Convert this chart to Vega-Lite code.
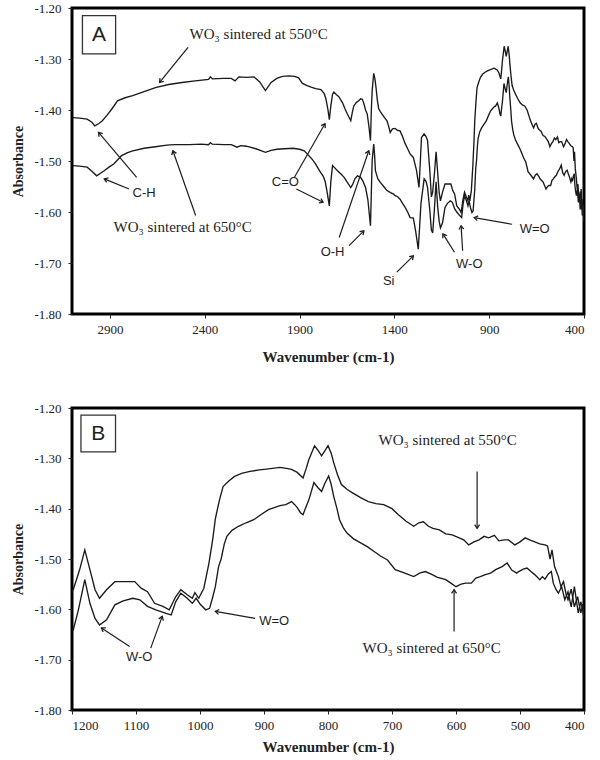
{
"$schema": "https://vega.github.io/schema/vega-lite/v6.json",
"background": "white",
"padding": {"left": 10, "top": 0, "right": 12, "bottom": 0},
"spacing": 34,
"config": {
  "view": {"stroke": "black", "strokeWidth": 3},
  "axis": {"grid": false, "domain": false, "labelFont": "Liberation Serif", "labelFontSize": 13, "labelColor": "#222", "titleFont": "Liberation Serif", "titleFontSize": 15, "titleFontWeight": "bold", "titleColor": "#222", "tickColor": "#222", "tickSize": 4}
},
"datasets": {
"spec": [
{"s":"U","wn":3095,"a":-1.415},{"s":"U","wn":3060,"a":-1.416},{"s":"U","wn":3020,"a":-1.418},{"s":"U","wn":2995,"a":-1.424},{"s":"U","wn":2980,"a":-1.431},{"s":"U","wn":2960,"a":-1.427},{"s":"U","wn":2940,"a":-1.421},{"s":"U","wn":2915,"a":-1.410},{"s":"U","wn":2890,"a":-1.398},{"s":"U","wn":2860,"a":-1.382},{"s":"U","wn":2820,"a":-1.376},{"s":"U","wn":2780,"a":-1.372},{"s":"U","wn":2720,"a":-1.364},{"s":"U","wn":2660,"a":-1.356},{"s":"U","wn":2590,"a":-1.350},{"s":"U","wn":2520,"a":-1.346},{"s":"U","wn":2450,"a":-1.343},{"s":"U","wn":2380,"a":-1.340},{"s":"U","wn":2370,"a":-1.335},{"s":"U","wn":2360,"a":-1.339},{"s":"U","wn":2300,"a":-1.338},{"s":"U","wn":2260,"a":-1.338},{"s":"U","wn":2240,"a":-1.343},{"s":"U","wn":2220,"a":-1.335},{"s":"U","wn":2180,"a":-1.336},{"s":"U","wn":2140,"a":-1.335},{"s":"U","wn":2110,"a":-1.345},{"s":"U","wn":2080,"a":-1.362},{"s":"U","wn":2050,"a":-1.346},{"s":"U","wn":2020,"a":-1.338},{"s":"U","wn":1990,"a":-1.334},{"s":"U","wn":1955,"a":-1.333},{"s":"U","wn":1925,"a":-1.334},{"s":"U","wn":1905,"a":-1.337},{"s":"U","wn":1885,"a":-1.348},{"s":"U","wn":1860,"a":-1.352},{"s":"U","wn":1839,"a":-1.355},{"s":"U","wn":1815,"a":-1.358},{"s":"U","wn":1787,"a":-1.360},{"s":"U","wn":1770,"a":-1.368},{"s":"U","wn":1761,"a":-1.378},{"s":"U","wn":1750,"a":-1.400},{"s":"U","wn":1743,"a":-1.419},{"s":"U","wn":1735,"a":-1.392},{"s":"U","wn":1726,"a":-1.369},{"s":"U","wn":1719,"a":-1.365},{"s":"U","wn":1705,"a":-1.370},{"s":"U","wn":1693,"a":-1.374},{"s":"U","wn":1673,"a":-1.386},{"s":"U","wn":1660,"a":-1.398},{"s":"U","wn":1648,"a":-1.408},{"s":"U","wn":1630,"a":-1.421},{"s":"U","wn":1622,"a":-1.405},{"s":"U","wn":1614,"a":-1.392},{"s":"U","wn":1600,"a":-1.385},{"s":"U","wn":1588,"a":-1.382},{"s":"U","wn":1578,"a":-1.378},{"s":"U","wn":1569,"a":-1.379},{"s":"U","wn":1562,"a":-1.386},{"s":"U","wn":1552,"a":-1.400},{"s":"U","wn":1543,"a":-1.408},{"s":"U","wn":1535,"a":-1.430},{"s":"U","wn":1526,"a":-1.460},{"s":"U","wn":1521,"a":-1.395},{"s":"U","wn":1517,"a":-1.362},{"s":"U","wn":1509,"a":-1.328},{"s":"U","wn":1503,"a":-1.338},{"s":"U","wn":1497,"a":-1.355},{"s":"U","wn":1490,"a":-1.380},{"s":"U","wn":1483,"a":-1.397},{"s":"U","wn":1474,"a":-1.403},{"s":"U","wn":1465,"a":-1.408},{"s":"U","wn":1452,"a":-1.415},{"s":"U","wn":1439,"a":-1.421},{"s":"U","wn":1430,"a":-1.432},{"s":"U","wn":1422,"a":-1.444},{"s":"U","wn":1410,"a":-1.437},{"s":"U","wn":1396,"a":-1.436},{"s":"U","wn":1383,"a":-1.440},{"s":"U","wn":1370,"a":-1.441},{"s":"U","wn":1357,"a":-1.452},{"s":"U","wn":1343,"a":-1.466},{"s":"U","wn":1330,"a":-1.476},{"s":"U","wn":1317,"a":-1.486},{"s":"U","wn":1300,"a":-1.493},{"s":"U","wn":1283,"a":-1.519},{"s":"U","wn":1270,"a":-1.552},{"s":"U","wn":1263,"a":-1.500},{"s":"U","wn":1257,"a":-1.454},{"s":"U","wn":1243,"a":-1.447},{"s":"U","wn":1233,"a":-1.452},{"s":"U","wn":1225,"a":-1.460},{"s":"U","wn":1213,"a":-1.519},{"s":"U","wn":1205,"a":-1.570},{"s":"U","wn":1198,"a":-1.561},{"s":"U","wn":1188,"a":-1.521},{"s":"U","wn":1180,"a":-1.482},{"s":"U","wn":1172,"a":-1.521},{"s":"U","wn":1164,"a":-1.561},{"s":"U","wn":1157,"a":-1.578},{"s":"U","wn":1146,"a":-1.561},{"s":"U","wn":1133,"a":-1.545},{"s":"U","wn":1119,"a":-1.545},{"s":"U","wn":1102,"a":-1.545},{"s":"U","wn":1092,"a":-1.558},{"s":"U","wn":1082,"a":-1.565},{"s":"U","wn":1071,"a":-1.588},{"s":"U","wn":1058,"a":-1.594},{"s":"U","wn":1048,"a":-1.601},{"s":"U","wn":1038,"a":-1.575},{"s":"U","wn":1030,"a":-1.561},{"s":"U","wn":1020,"a":-1.571},{"s":"U","wn":1012,"a":-1.578},{"s":"U","wn":1008,"a":-1.567},{"s":"U","wn":1002,"a":-1.578},{"s":"U","wn":994,"a":-1.558},{"s":"U","wn":986,"a":-1.508},{"s":"U","wn":980,"a":-1.460},{"s":"U","wn":976,"a":-1.420},{"s":"U","wn":970,"a":-1.385},{"s":"U","wn":964,"a":-1.356},{"s":"U","wn":955,"a":-1.345},{"s":"U","wn":946,"a":-1.336},{"s":"U","wn":935,"a":-1.330},{"s":"U","wn":922,"a":-1.326},{"s":"U","wn":907,"a":-1.323},{"s":"U","wn":893,"a":-1.321},{"s":"U","wn":875,"a":-1.318},{"s":"U","wn":865,"a":-1.320},{"s":"U","wn":857,"a":-1.322},{"s":"U","wn":848,"a":-1.328},{"s":"U","wn":839,"a":-1.339},{"s":"U","wn":834,"a":-1.320},{"s":"U","wn":830,"a":-1.303},{"s":"U","wn":821,"a":-1.275},{"s":"U","wn":815,"a":-1.285},{"s":"U","wn":810,"a":-1.295},{"s":"U","wn":805,"a":-1.285},{"s":"U","wn":800,"a":-1.275},{"s":"U","wn":795,"a":-1.290},{"s":"U","wn":791,"a":-1.309},{"s":"U","wn":785,"a":-1.333},{"s":"U","wn":779,"a":-1.352},{"s":"U","wn":770,"a":-1.362},{"s":"U","wn":761,"a":-1.369},{"s":"U","wn":749,"a":-1.378},{"s":"U","wn":737,"a":-1.386},{"s":"U","wn":725,"a":-1.390},{"s":"U","wn":713,"a":-1.392},{"s":"U","wn":700,"a":-1.400},{"s":"U","wn":690,"a":-1.412},{"s":"U","wn":678,"a":-1.425},{"s":"U","wn":666,"a":-1.435},{"s":"U","wn":658,"a":-1.428},{"s":"U","wn":651,"a":-1.426},{"s":"U","wn":643,"a":-1.435},{"s":"U","wn":636,"a":-1.439},{"s":"U","wn":626,"a":-1.442},{"s":"U","wn":616,"a":-1.450},{"s":"U","wn":606,"a":-1.452},{"s":"U","wn":595,"a":-1.458},{"s":"U","wn":588,"a":-1.462},{"s":"U","wn":580,"a":-1.472},{"s":"U","wn":572,"a":-1.466},{"s":"U","wn":564,"a":-1.462},{"s":"U","wn":556,"a":-1.455},{"s":"U","wn":549,"a":-1.458},{"s":"U","wn":540,"a":-1.453},{"s":"U","wn":533,"a":-1.464},{"s":"U","wn":525,"a":-1.462},{"s":"U","wn":518,"a":-1.462},{"s":"U","wn":508,"a":-1.472},{"s":"U","wn":500,"a":-1.466},{"s":"U","wn":492,"a":-1.458},{"s":"U","wn":485,"a":-1.462},{"s":"U","wn":477,"a":-1.466},{"s":"U","wn":469,"a":-1.470},{"s":"U","wn":461,"a":-1.472},{"s":"U","wn":457,"a":-1.474},{"s":"U","wn":453,"a":-1.500},{"s":"U","wn":450,"a":-1.482},{"s":"U","wn":446,"a":-1.515},{"s":"U","wn":440,"a":-1.535},{"s":"U","wn":436,"a":-1.555},{"s":"U","wn":432,"a":-1.545},{"s":"U","wn":428,"a":-1.570},{"s":"U","wn":425,"a":-1.581},{"s":"U","wn":420,"a":-1.560},{"s":"U","wn":415,"a":-1.595},{"s":"U","wn":410,"a":-1.575},{"s":"U","wn":405,"a":-1.607},{"s":"U","wn":402,"a":-1.590},{"s":"U","wn":400,"a":-1.615},
{"s":"L","wn":3095,"a":-1.509},{"s":"L","wn":3060,"a":-1.510},{"s":"L","wn":3020,"a":-1.512},{"s":"L","wn":2995,"a":-1.520},{"s":"L","wn":2970,"a":-1.529},{"s":"L","wn":2950,"a":-1.524},{"s":"L","wn":2930,"a":-1.519},{"s":"L","wn":2905,"a":-1.512},{"s":"L","wn":2880,"a":-1.506},{"s":"L","wn":2860,"a":-1.498},{"s":"L","wn":2840,"a":-1.490},{"s":"L","wn":2810,"a":-1.484},{"s":"L","wn":2780,"a":-1.480},{"s":"L","wn":2720,"a":-1.475},{"s":"L","wn":2660,"a":-1.472},{"s":"L","wn":2600,"a":-1.469},{"s":"L","wn":2560,"a":-1.468},{"s":"L","wn":2480,"a":-1.468},{"s":"L","wn":2420,"a":-1.467},{"s":"L","wn":2380,"a":-1.468},{"s":"L","wn":2370,"a":-1.464},{"s":"L","wn":2360,"a":-1.467},{"s":"L","wn":2300,"a":-1.468},{"s":"L","wn":2260,"a":-1.468},{"s":"L","wn":2230,"a":-1.473},{"s":"L","wn":2210,"a":-1.470},{"s":"L","wn":2180,"a":-1.471},{"s":"L","wn":2130,"a":-1.476},{"s":"L","wn":2100,"a":-1.480},{"s":"L","wn":2080,"a":-1.483},{"s":"L","wn":2050,"a":-1.479},{"s":"L","wn":2020,"a":-1.477},{"s":"L","wn":1980,"a":-1.476},{"s":"L","wn":1935,"a":-1.475},{"s":"L","wn":1900,"a":-1.477},{"s":"L","wn":1875,"a":-1.480},{"s":"L","wn":1855,"a":-1.488},{"s":"L","wn":1835,"a":-1.496},{"s":"L","wn":1815,"a":-1.506},{"s":"L","wn":1795,"a":-1.519},{"s":"L","wn":1775,"a":-1.530},{"s":"L","wn":1765,"a":-1.540},{"s":"L","wn":1755,"a":-1.560},{"s":"L","wn":1743,"a":-1.588},{"s":"L","wn":1735,"a":-1.540},{"s":"L","wn":1726,"a":-1.509},{"s":"L","wn":1713,"a":-1.514},{"s":"L","wn":1700,"a":-1.519},{"s":"L","wn":1683,"a":-1.525},{"s":"L","wn":1665,"a":-1.532},{"s":"L","wn":1648,"a":-1.542},{"s":"L","wn":1630,"a":-1.552},{"s":"L","wn":1620,"a":-1.546},{"s":"L","wn":1608,"a":-1.535},{"s":"L","wn":1595,"a":-1.529},{"s":"L","wn":1578,"a":-1.532},{"s":"L","wn":1565,"a":-1.540},{"s":"L","wn":1552,"a":-1.552},{"s":"L","wn":1540,"a":-1.575},{"s":"L","wn":1526,"a":-1.627},{"s":"L","wn":1520,"a":-1.540},{"s":"L","wn":1517,"a":-1.499},{"s":"L","wn":1509,"a":-1.467},{"s":"L","wn":1504,"a":-1.490},{"s":"L","wn":1500,"a":-1.519},{"s":"L","wn":1487,"a":-1.535},{"s":"L","wn":1474,"a":-1.542},{"s":"L","wn":1456,"a":-1.550},{"s":"L","wn":1439,"a":-1.558},{"s":"L","wn":1420,"a":-1.562},{"s":"L","wn":1404,"a":-1.565},{"s":"L","wn":1396,"a":-1.568},{"s":"L","wn":1383,"a":-1.570},{"s":"L","wn":1370,"a":-1.575},{"s":"L","wn":1357,"a":-1.583},{"s":"L","wn":1343,"a":-1.591},{"s":"L","wn":1330,"a":-1.600},{"s":"L","wn":1317,"a":-1.611},{"s":"L","wn":1300,"a":-1.612},{"s":"L","wn":1288,"a":-1.637},{"s":"L","wn":1274,"a":-1.673},{"s":"L","wn":1267,"a":-1.630},{"s":"L","wn":1260,"a":-1.584},{"s":"L","wn":1243,"a":-1.535},{"s":"L","wn":1233,"a":-1.540},{"s":"L","wn":1225,"a":-1.552},{"s":"L","wn":1213,"a":-1.597},{"s":"L","wn":1205,"a":-1.635},{"s":"L","wn":1198,"a":-1.641},{"s":"L","wn":1190,"a":-1.601},{"s":"L","wn":1180,"a":-1.541},{"s":"L","wn":1172,"a":-1.588},{"s":"L","wn":1164,"a":-1.618},{"s":"L","wn":1157,"a":-1.631},{"s":"L","wn":1146,"a":-1.621},{"s":"L","wn":1133,"a":-1.591},{"s":"L","wn":1120,"a":-1.583},{"s":"L","wn":1105,"a":-1.578},{"s":"L","wn":1094,"a":-1.581},{"s":"L","wn":1082,"a":-1.594},{"s":"L","wn":1069,"a":-1.601},{"s":"L","wn":1053,"a":-1.608},{"s":"L","wn":1045,"a":-1.611},{"s":"L","wn":1038,"a":-1.585},{"s":"L","wn":1030,"a":-1.568},{"s":"L","wn":1020,"a":-1.578},{"s":"L","wn":1012,"a":-1.588},{"s":"L","wn":1006,"a":-1.578},{"s":"L","wn":999,"a":-1.591},{"s":"L","wn":991,"a":-1.601},{"s":"L","wn":985,"a":-1.598},{"s":"L","wn":980,"a":-1.575},{"s":"L","wn":976,"a":-1.555},{"s":"L","wn":971,"a":-1.515},{"s":"L","wn":967,"a":-1.500},{"s":"L","wn":962,"a":-1.470},{"s":"L","wn":958,"a":-1.455},{"s":"L","wn":950,"a":-1.443},{"s":"L","wn":940,"a":-1.435},{"s":"L","wn":928,"a":-1.428},{"s":"L","wn":916,"a":-1.422},{"s":"L","wn":905,"a":-1.412},{"s":"L","wn":893,"a":-1.402},{"s":"L","wn":884,"a":-1.398},{"s":"L","wn":875,"a":-1.394},{"s":"L","wn":866,"a":-1.392},{"s":"L","wn":857,"a":-1.386},{"s":"L","wn":852,"a":-1.392},{"s":"L","wn":848,"a":-1.398},{"s":"L","wn":843,"a":-1.408},{"s":"L","wn":839,"a":-1.412},{"s":"L","wn":834,"a":-1.395},{"s":"L","wn":830,"a":-1.383},{"s":"L","wn":822,"a":-1.348},{"s":"L","wn":816,"a":-1.358},{"s":"L","wn":810,"a":-1.366},{"s":"L","wn":805,"a":-1.350},{"s":"L","wn":799,"a":-1.335},{"s":"L","wn":795,"a":-1.352},{"s":"L","wn":791,"a":-1.376},{"s":"L","wn":786,"a":-1.400},{"s":"L","wn":782,"a":-1.422},{"s":"L","wn":776,"a":-1.438},{"s":"L","wn":770,"a":-1.449},{"s":"L","wn":760,"a":-1.460},{"s":"L","wn":749,"a":-1.468},{"s":"L","wn":738,"a":-1.476},{"s":"L","wn":728,"a":-1.485},{"s":"L","wn":718,"a":-1.494},{"s":"L","wn":707,"a":-1.502},{"s":"L","wn":695,"a":-1.521},{"s":"L","wn":680,"a":-1.528},{"s":"L","wn":666,"a":-1.535},{"s":"L","wn":657,"a":-1.528},{"s":"L","wn":648,"a":-1.525},{"s":"L","wn":637,"a":-1.531},{"s":"L","wn":630,"a":-1.536},{"s":"L","wn":616,"a":-1.541},{"s":"L","wn":608,"a":-1.548},{"s":"L","wn":600,"a":-1.555},{"s":"L","wn":592,"a":-1.550},{"s":"L","wn":585,"a":-1.548},{"s":"L","wn":576,"a":-1.548},{"s":"L","wn":569,"a":-1.538},{"s":"L","wn":562,"a":-1.535},{"s":"L","wn":554,"a":-1.531},{"s":"L","wn":546,"a":-1.528},{"s":"L","wn":538,"a":-1.521},{"s":"L","wn":528,"a":-1.515},{"s":"L","wn":520,"a":-1.508},{"s":"L","wn":513,"a":-1.522},{"s":"L","wn":505,"a":-1.528},{"s":"L","wn":502,"a":-1.525},{"s":"L","wn":495,"a":-1.520},{"s":"L","wn":489,"a":-1.518},{"s":"L","wn":483,"a":-1.525},{"s":"L","wn":477,"a":-1.531},{"s":"L","wn":469,"a":-1.541},{"s":"L","wn":465,"a":-1.535},{"s":"L","wn":461,"a":-1.540},{"s":"L","wn":456,"a":-1.530},{"s":"L","wn":451,"a":-1.525},{"s":"L","wn":448,"a":-1.548},{"s":"L","wn":444,"a":-1.560},{"s":"L","wn":440,"a":-1.568},{"s":"L","wn":435,"a":-1.555},{"s":"L","wn":430,"a":-1.581},{"s":"L","wn":425,"a":-1.565},{"s":"L","wn":420,"a":-1.595},{"s":"L","wn":415,"a":-1.555},{"s":"L","wn":409,"a":-1.607},{"s":"L","wn":405,"a":-1.585},{"s":"L","wn":402,"a":-1.600},{"s":"L","wn":400,"a":-1.620}
],
"arrA": [
{"wn":2488,"a":-1.277,"wn2":2638,"a2":-1.346,"rot":219.5},
{"wn":2759,"a":-1.532,"wn2":2960,"a2":-1.444,"rot":-40.6},
{"wn":2799,"a":-1.555,"wn2":2930,"a2":-1.535,"rot":-68.2},
{"wn":2448,"a":-1.607,"wn2":2568,"a2":-1.480,"rot":-19.5},
{"wn":1927,"a":-1.532,"wn2":1766,"a2":-1.427,"rot":30.1},
{"wn":1917,"a":-1.555,"wn2":1776,"a2":-1.581,"rot":116.4},
{"wn":1691,"a":-1.650,"wn2":1535,"a2":-1.480,"rot":19.1},
{"wn":1639,"a":-1.666,"wn2":1561,"a2":-1.637,"rot":45},
{"wn":1387,"a":-1.718,"wn2":1300,"a2":-1.686,"rot":44.8},
{"wn":1083,"a":-1.679,"wn2":1144,"a2":-1.643,"rot":-32.5},
{"wn":1040,"a":-1.676,"wn2":1048,"a2":-1.627,"rot":-3.7},
{"wn":779,"a":-1.624,"wn2":979,"a2":-1.611,"rot":-80.2}
],
"arrB": [
{"wn":567,"a":-1.326,"wn2":567,"a2":-1.439,"rot":180},
{"wn":603,"a":-1.644,"wn2":603,"a2":-1.561,"rot":0},
{"wn":1110,"a":-1.674,"wn2":1154,"a2":-1.637,"rot":-57.3},
{"wn":1077,"a":-1.677,"wn2":1059,"a2":-1.614,"rot":20},
{"wn":914,"a":-1.618,"wn2":976,"a2":-1.604,"rot":-80.7}
],
"serA": [
{"wn":2480,"a":-1.250,"t":"WO₃ sintered at 550°C"},
{"wn":2881,"a":-1.630,"t":"WO₃ sintered at 650°C"}
],
"sanA": [
{"wn":2720,"a":-1.562,"t":"C-H"},
{"wn":1975,"a":-1.542,"t":"C=O"},
{"wn":1726,"a":-1.679,"t":"O-H"},
{"wn":1430,"a":-1.735,"t":"Si"},
{"wn":1005,"a":-1.702,"t":"W-O"},
{"wn":660,"a":-1.633,"t":"W=O"}
],
"serB": [
{"wn":721,"a":-1.263,"t":"WO₃ sintered at 550°C"},
{"wn":746,"a":-1.677,"t":"WO₃ sintered at 650°C"}
],
"sanB": [
{"wn":1095,"a":-1.694,"t":"W-O"},
{"wn":884,"a":-1.624,"t":"W=O"}
],
"boxA": [{"wn":3045,"wn2":2870,"a":-1.215,"a2":-1.290}],
"tagA": [{"wn":2957,"a":-1.253,"t":"A"}],
"boxB": [{"wn":1186,"wn2":1132,"a":-1.214,"a2":-1.287}],
"tagB": [{"wn":1159,"a":-1.251,"t":"B"}]
},
"vconcat": [
{
"width": 512, "height": 306,
"encoding": {
  "x": {"field": "wn", "type": "quantitative", "scale": {"domain": [400, 3100], "reverse": true, "nice": false, "zero": false}, "axis": {"values": [400, 900, 1400, 1900, 2400, 2900], "format": "d", "title": "Wavenumber (cm-1)", "labelPadding": 5, "titlePadding": 13}},
  "y": {"field": "a", "type": "quantitative", "scale": {"domain": [-1.8, -1.2], "nice": false, "zero": false}, "axis": {"values": [-1.8, -1.7, -1.6, -1.5, -1.4, -1.3, -1.2], "labelExpr": "'-' + format(abs(datum.value), '.2f')", "title": "Absorbance", "titleFontSize": 14, "labelPadding": 7, "titlePadding": 8}}
},
"layer": [
  {"data": {"name": "spec"}, "mark": {"type": "line", "color": "#1a1a1a", "strokeWidth": 1.35, "clip": true}, "encoding": {"detail": {"field": "s"}}},
  {"data": {"name": "arrA"}, "mark": {"type": "rule", "color": "#1e1e1e", "strokeWidth": 1.2}, "encoding": {"x2": {"field": "wn2"}, "y2": {"field": "a2"}}},
  {"data": {"name": "arrA"}, "mark": {"type": "point", "shape": "M-0.55,0.8L0,0L0.55,0.8", "filled": false, "size": 80, "strokeWidth": 1.3, "color": "#1e1e1e", "opacity": 1}, "encoding": {"x": {"field": "wn2", "type": "quantitative"}, "y": {"field": "a2", "type": "quantitative"}, "angle": {"field": "rot", "type": "quantitative", "scale": null}}},
  {"data": {"name": "serA"}, "mark": {"type": "text", "font": "Liberation Serif", "fontSize": 15, "align": "left", "baseline": "middle", "color": "#1e1e1e"}, "encoding": {"text": {"field": "t"}}},
  {"data": {"name": "sanA"}, "mark": {"type": "text", "font": "Liberation Sans", "fontSize": 13, "align": "center", "baseline": "middle", "color": "#1e1e1e"}, "encoding": {"text": {"field": "t"}}},
  {"data": {"name": "boxA"}, "mark": {"type": "rect", "fill": "white", "stroke": "#333", "strokeWidth": 1.3}, "encoding": {"x2": {"field": "wn2"}, "y2": {"field": "a2"}}},
  {"data": {"name": "tagA"}, "mark": {"type": "text", "font": "Liberation Sans", "fontSize": 21, "align": "center", "baseline": "middle", "color": "#1e1e1e"}, "encoding": {"text": {"field": "t"}}}
]
},
{
"width": 512, "height": 302,
"encoding": {
  "x": {"field": "wn", "type": "quantitative", "scale": {"domain": [400, 1200], "reverse": true, "nice": false, "zero": false}, "axis": {"values": [400, 500, 600, 700, 800, 900, 1000, 1100, 1200], "format": "d", "title": "Wavenumber (cm-1)", "labelPadding": 5, "titlePadding": 7}},
  "y": {"field": "a", "type": "quantitative", "scale": {"domain": [-1.8, -1.2], "nice": false, "zero": false}, "axis": {"values": [-1.8, -1.7, -1.6, -1.5, -1.4, -1.3, -1.2], "labelExpr": "'-' + format(abs(datum.value), '.2f')", "title": "Absorbance", "titleFontSize": 14, "labelPadding": 7, "titlePadding": 8}}
},
"layer": [
  {"data": {"name": "spec"}, "transform": [{"filter": "datum.wn <= 1210"}], "mark": {"type": "line", "color": "#1a1a1a", "strokeWidth": 1.35, "clip": true}, "encoding": {"detail": {"field": "s"}}},
  {"data": {"name": "arrB"}, "mark": {"type": "rule", "color": "#1e1e1e", "strokeWidth": 1.2}, "encoding": {"x2": {"field": "wn2"}, "y2": {"field": "a2"}}},
  {"data": {"name": "arrB"}, "mark": {"type": "point", "shape": "M-0.55,0.8L0,0L0.55,0.8", "filled": false, "size": 80, "strokeWidth": 1.3, "color": "#1e1e1e", "opacity": 1}, "encoding": {"x": {"field": "wn2", "type": "quantitative"}, "y": {"field": "a2", "type": "quantitative"}, "angle": {"field": "rot", "type": "quantitative", "scale": null}}},
  {"data": {"name": "serB"}, "mark": {"type": "text", "font": "Liberation Serif", "fontSize": 15, "align": "left", "baseline": "middle", "color": "#1e1e1e"}, "encoding": {"text": {"field": "t"}}},
  {"data": {"name": "sanB"}, "mark": {"type": "text", "font": "Liberation Sans", "fontSize": 13, "align": "center", "baseline": "middle", "color": "#1e1e1e"}, "encoding": {"text": {"field": "t"}}},
  {"data": {"name": "boxB"}, "mark": {"type": "rect", "fill": "white", "stroke": "#333", "strokeWidth": 1.3}, "encoding": {"x2": {"field": "wn2"}, "y2": {"field": "a2"}}},
  {"data": {"name": "tagB"}, "mark": {"type": "text", "font": "Liberation Sans", "fontSize": 21, "align": "center", "baseline": "middle", "color": "#1e1e1e"}, "encoding": {"text": {"field": "t"}}}
]
}
]
}
